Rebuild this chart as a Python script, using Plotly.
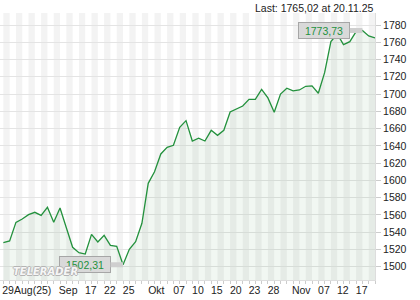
import plotly.graph_objects as go

# ---- data ----
dates = ["29.08", "01.09", "02.09", "03.09", "04.09", "05.09", "08.09", "09.09", "10.09", "11.09",
         "12.09", "15.09", "16.09", "17.09", "18.09", "19.09", "22.09", "23.09", "24.09", "25.09",
         "26.09", "29.09", "30.09", "01.10", "02.10", "03.10", "06.10", "07.10", "08.10", "09.10",
         "10.10", "13.10", "14.10", "15.10", "16.10", "17.10", "20.10", "21.10", "22.10", "23.10",
         "24.10", "27.10", "28.10", "29.10", "30.10", "31.10", "03.11", "04.11", "05.11", "06.11",
         "07.11", "10.11", "11.11", "12.11", "13.11", "14.11", "17.11", "18.11", "19.11", "20.11"]
values = [1527.8, 1529.8, 1551.4, 1555.3, 1560.3, 1563.0, 1559.5, 1568.8, 1551.4, 1568.0,
          1545.2, 1522.5, 1516.2, 1514.7, 1537.5, 1528.6, 1536.4, 1524.8, 1523.6, 1502.31,
          1520.2, 1529.0, 1550.3, 1596.6, 1610.0, 1630.6, 1638.3, 1640.6, 1661.5, 1669.2,
          1645.6, 1648.8, 1645.6, 1658.0, 1652.2, 1658.0, 1679.2, 1682.4, 1686.2, 1693.9,
          1693.9, 1705.5, 1695.5, 1678.9, 1700.0, 1706.7, 1703.6, 1704.7, 1709.0, 1709.4,
          1700.9, 1724.8, 1760.7, 1769.6, 1757.2, 1760.7, 1772.3, 1773.73, 1767.3, 1765.02]
tick_days = [0, 9, 13, 16, 19, 23, 27, 30, 33, 36, 39, 42, 46, 50, 53, 56]
tick_labels = ["29Aug(25)", "Sep", "17", "22", "25", "Okt", "07", "10", "15", "20", "23", "28",
               "Nov", "07", "12", "17"]
y_ticks = list(range(1500, 1781, 20))
last_text = "Last: 1765,02 at 20.11.25"

def de(v):
    return f"{v:.2f}".replace(".", ",")

W, H = 420, 300
ML, MR, MT, MB = 0, 45, 13, 20
x0, x1 = -0.53, 59.0
px_per_day = (W - ML - MR) / (x1 - x0)
green = "#23913d"
font = "Liberation Sans, Arial, sans-serif"

n = len(values)
xs = list(range(n))

fig = go.Figure()
fig.add_trace(go.Scatter(x=xs, y=values, mode="lines", line=dict(color=green, width=1.3),
                         fill="tozeroy", fillcolor="rgba(60,140,70,0.07)", hoverinfo="skip"))

shapes = []
for i in range(0, n, 2):
    shapes.append(dict(type="rect", xref="x", yref="paper", x0=i, x1=i + 1, y0=0, y1=1,
                       fillcolor="#f3f3f3", line=dict(width=0), layer="below"))

# tick labels sit just right of their day (left aligned look)
char_w = 5.1
tick_pos = [d + (len(t) * char_w / 2 + 0.5) / px_per_day for d, t in zip(tick_days, tick_labels)]

imax = max(range(n), key=lambda i: values[i])
imin = min(range(n), key=lambda i: values[i])

annotations = []
for i in (imax, imin):
    annotations.append(dict(x=i, y=values[i], xref="x", yref="y", text=de(values[i]),
                            showarrow=True, ax=-38, ay=0, arrowhead=0, arrowwidth=5,
                            arrowcolor="#cfcfcf", standoff=0, startstandoff=0,
                            bgcolor="#d9d9d9", bordercolor="#a6a6a6", borderwidth=1,
                            borderpad=1, width=48, height=13,
                            font=dict(color=green, size=10.5, family=font)))
annotations.append(dict(x=1, y=1 + 5.0 / (H - MT - MB), xref="paper", yref="paper",
                        xanchor="right", yanchor="middle", text=last_text, showarrow=False,
                        font=dict(size=10.5, color="#222", family=font)))
# watermark logo (drawn on top, as in the original)
annotations.append(dict(x=11 / (W - ML - MR), y=(280 - 271) / (H - MT - MB), xref="paper",
                        yref="paper", xanchor="left", yanchor="middle", text="TELERADER",
                        showarrow=False,
                        font=dict(size=10, color="#f6f6f6", family="DejaVu Sans",
                                  weight="bold", style="italic",
                                  shadow="-1px 0 #b4b4b4, 1px 0 #b4b4b4, 0 -1px #b4b4b4, 0 1px #b4b4b4")))

fig.update_layout(
    width=W, height=H, margin=dict(l=ML, r=MR, t=MT, b=MB),
    paper_bgcolor="white", plot_bgcolor="white", showlegend=False,
    shapes=shapes, annotations=annotations,
    xaxis=dict(range=[x0, x1], tickvals=tick_pos, ticktext=tick_labels, ticks="",
               showgrid=False, zeroline=False, showline=True, linecolor="#dddddd",
               tickfont=dict(size=10.5, color="#222", family=font),
               minor=dict(tickvals=xs, ticks="outside", ticklen=3, tickcolor="#cccccc",
                          showgrid=False)),
    yaxis=dict(range=[1484.6, 1793.9], side="right", tickvals=y_ticks,
               ticktext=[str(v) for v in y_ticks], ticks="outside", ticklen=5,
               tickcolor="#cccccc", gridcolor="#e4e4e4", gridwidth=1, zeroline=False,
               showline=True, linecolor="#dddddd",
               tickfont=dict(size=10.5, color="#222", family=font)),
)
fig.write_html("out.html")
